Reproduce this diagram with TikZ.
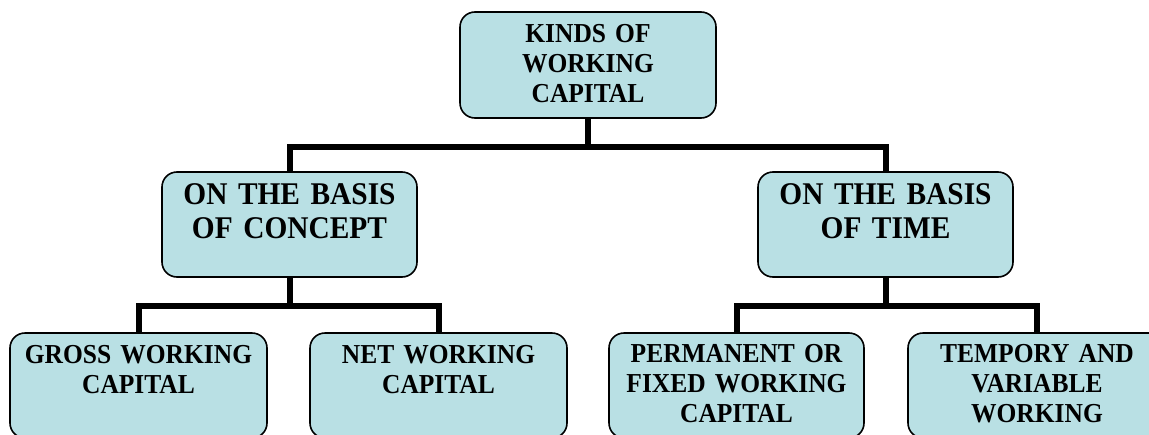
\documentclass[tikz,border=0pt]{standalone}
\usepackage{fontspec}
\setmainfont{Liberation Serif}[FakeStretch=0.93, BoldFeatures={FakeStretch=0.93}]
\definecolor{boxfill}{RGB}{185,224,228}
\tikzset{
  box/.style={draw=black, line width=1.6pt, fill=boxfill, rounded corners=15pt, minimum height=105pt, inner sep=0pt},
  txt/.style={anchor=base, inner sep=0pt, text width=250pt, align=center, font=\bfseries\fontsize{27.4}{30}\selectfont},
  bigtxt/.style={txt, font=\bfseries\fontsize{31.6}{33.5}\selectfont},
  conn/.style={draw=black, line width=6pt}
}
\begin{document}
\begin{tikzpicture}[x=1pt,y=-1pt]
\useasboundingbox (0,0) rectangle (1149,434);
\clip (0,0) rectangle (1149,434);
% boxes
\node[box, minimum width=256pt, minimum height=106pt] (top) at (588,65) {};
\node[box, minimum width=255pt] (ml) at (289.5,224.5) {};
\node[box, minimum width=255pt] (mr) at (885.5,224.5) {};
\node[box, minimum width=257pt] (b1) at (138.5,385.5) {};
\node[box, minimum width=257pt] (b2) at (438.5,385.5) {};
\node[box, minimum width=255pt] (b3) at (736.5,385.5) {};
\node[box, minimum width=258pt] (b4) at (1037,385.5) {};
% connectors
\draw[conn] (top.south) -- +(0,28) -| (ml.north);
\draw[conn] (top.south) -- +(0,28) -| (mr.north);
\draw[conn] (ml.south) -- +(0,28) -| (b1.north);
\draw[conn] (ml.south) -- +(0,28) -| (b2.north);
\draw[conn] (mr.south) -- +(0,28) -| (b3.north);
\draw[conn] (mr.south) -- +(0,28) -| (b4.north);
% texts
\node[txt] (ttop) at ([yshift=-31pt]top.north) {KINDS OF\\WORKING\\CAPITAL};
\node[bigtxt] (tml) at ([yshift=-33.7pt]ml.north) {ON THE BASIS\\OF CONCEPT};
\node[bigtxt] (tmr) at ([yshift=-33.7pt]mr.north) {ON THE BASIS\\OF TIME};
\node[txt] (tb1) at ([yshift=-31pt]b1.north) {GROSS WORKING\\CAPITAL};
\node[txt] (tb2) at ([yshift=-31pt]b2.north) {NET WORKING\\CAPITAL};
\node[txt] (tb3) at ([yshift=-30.5pt]b3.north) {PERMANENT OR\\FIXED WORKING\\CAPITAL};
\node[txt] (tb4) at ([yshift=-30.5pt]b4.north) {TEMPORY AND\\VARIABLE\\WORKING};
\end{tikzpicture}
\end{document}
